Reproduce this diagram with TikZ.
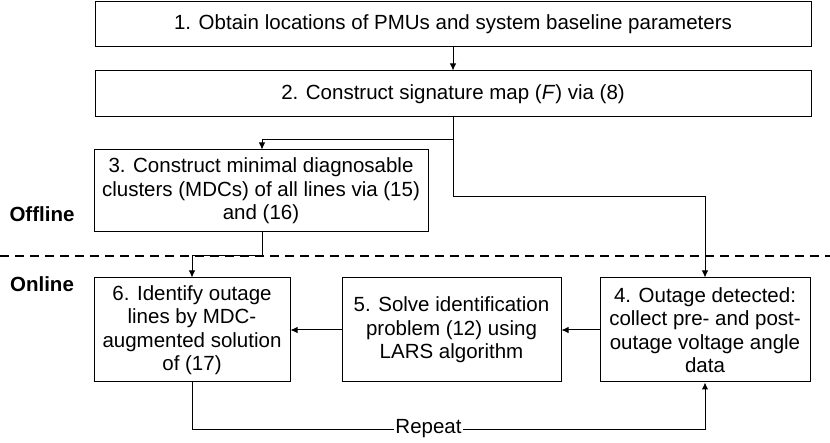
\documentclass[tikz,border=0pt]{standalone}
\usepackage{fontspec}
\setmainfont{Liberation Sans}
\usetikzlibrary{arrows.meta}
\begin{document}
\begin{tikzpicture}[x=1pt,y=-1pt,
  box/.style={draw, line width=1pt, inner sep=0pt, font=\fontsize{20.5}{23.5}\selectfont, align=center},
  lbl/.style={font=\fontsize{20.5}{23.5}\selectfont\bfseries},
  arr/.style={line width=1pt, -{Latex[length=7pt,width=6.5pt]}},
  conn/.style={line width=1pt}]
\useasboundingbox (0,0) rectangle (830,443);
\node[box, minimum width=716pt, minimum height=45pt] (b1) at (453,24.5) {1. Obtain locations of PMUs and system baseline parameters};
\node[box, minimum width=716pt, minimum height=46pt] (b2) at (453,94) {2. Construct signature map (\textit{F}) via (8)};
\node[box, minimum width=334pt, minimum height=82pt] (b3) at (261,191) {3. Construct minimal diagnosable\\clusters (MDCs) of all lines via (15)\\and (16)};
\node[box, minimum width=196pt, minimum height=104pt] (b6) at (192,330) {6. Identify outage\\lines by MDC-\\augmented solution\\of (17)};
\node[box, minimum width=219pt, minimum height=104pt] (b5) at (451.5,330) {5. Solve identification\\problem (12) using\\LARS algorithm};
\node[box, minimum width=210pt, minimum height=104pt] (b4) at (705,330) {4. Outage detected:\\collect pre- and post-\\outage voltage angle\\data};
\node[lbl] (off) at (42,214) {Offline};
\node[lbl] (on) at (42,284) {Online};
\coordinate (d1) at (0,256);
\coordinate (d2) at (830,256);
\draw[line width=1.6pt, dash pattern=on 9pt off 6pt] (d1) -- (d2);
\draw[arr] (b1) -- (b2);
\draw[arr] (b2.south) -- (453,140) -| (b3.north -| 262,0);
\draw[arr] (b2.south) -- (453,197) -| (b4.north);
\draw[arr] (b3.south -| 262,0) -- (262,256) -| (b6.north);
\draw[arr] (b4.west) -- (b5.east);
\draw[arr] (b5.west) -- (b6.east);
\draw[arr] (b6.south) -- (192,429) -| (b4.south);
\node[fill=white, inner sep=1pt, font=\fontsize{20.5}{23.5}\selectfont] (rep) at (428.5,429) {Repeat};
\end{tikzpicture}
\end{document}
